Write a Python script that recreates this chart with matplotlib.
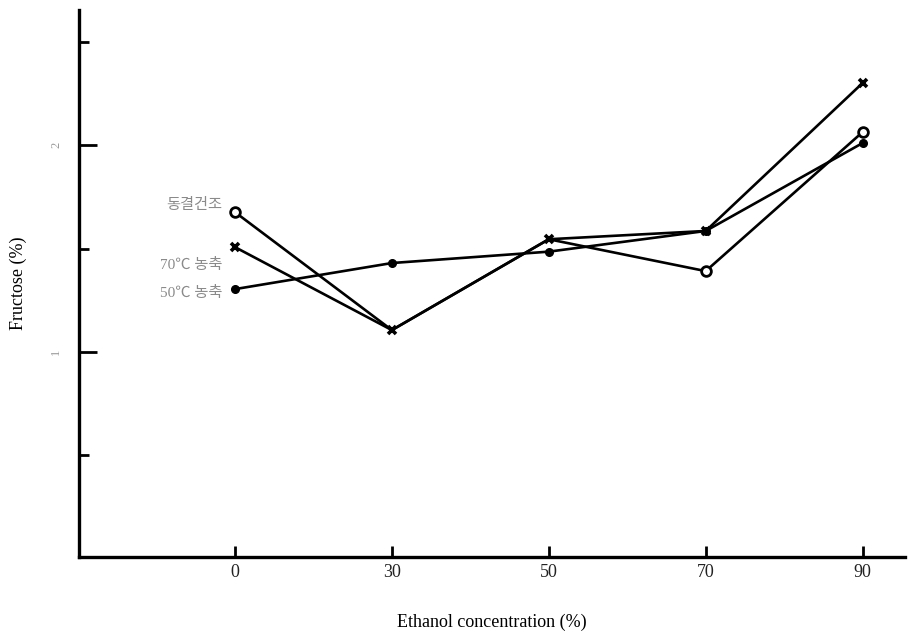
import numpy as np
import matplotlib
matplotlib.use("Agg")
import matplotlib.pyplot as plt

plt.rcParams['font.family'] = ['Liberation Serif', 'Noto Sans CJK KR', 'DejaVu Sans']

# ethanol concentration categories (%)
conc = ['0', '30', '50', '70', '90']
xpos = np.arange(len(conc))

# fructose (%)
freeze_dry = [1.676, 1.106, 1.545, 1.391, 2.063]   # open circles
conc70 = [1.507, 1.106, 1.545, 1.585, 2.300]       # crosses
conc50 = [1.304, 1.430, 1.485, 1.585, 2.010]       # dots

labels = ['동결건조', '70℃ 농축', '50℃ 농축']
label_y = [1.71, 1.42, 1.285]

fig = plt.figure(figsize=(9.1, 6.35), dpi=100)
ax = fig.add_axes([0.0868, 0.123, 0.9077, 0.861])

lw = 1.9
ax.plot(xpos, conc50, '-', color='black', lw=lw, marker='o', ms=5.5, zorder=3)
# circles at 30 and 50 sit under the crosses in the original
ax.plot(xpos, freeze_dry, '-', color='black', lw=lw, marker='o', ms=7,
        mfc='white', mec='black', mew=2, markevery=[0, 3, 4], zorder=2)
ax.plot(xpos, conc70, '-', color='black', lw=lw, marker='x', ms=6, mew=2.6, zorder=4)

for lab, yy in zip(labels, label_y):
    ax.text(-0.08, yy, lab, ha='right', va='center', fontsize=11, color='#8a8a8a')

ax.set_xlim(-0.994, 4.27)
ax.set_ylim(0.01, 2.652)

for s in ['top', 'right']:
    ax.spines[s].set_visible(False)
ax.spines['left'].set_linewidth(2.4)
ax.spines['bottom'].set_linewidth(2.4)

ax.set_xticks(xpos)
ax.set_xticklabels(conc, fontsize=13, color='#222222')
ax.tick_params(axis='x', direction='in', length=8, width=2, pad=5)

ax.set_yticks([1, 2])
ax.set_yticklabels(['1', '2'], fontsize=9, color='#999999', rotation=90, va='center')
ax.set_yticks([0.5, 1.5, 2.5], minor=True)
ax.tick_params(axis='y', which='major', direction='in', length=13, width=2, pad=12)
ax.tick_params(axis='y', which='minor', direction='in', length=7, width=2)

ax.set_xlabel('Ethanol concentration (%)', fontsize=13, labelpad=24)
ax.set_ylabel('Fructose (%)', fontsize=13)
ax.yaxis.set_label_coords(-0.063, 0.5)

fig.savefig('out.png', dpi=100)
